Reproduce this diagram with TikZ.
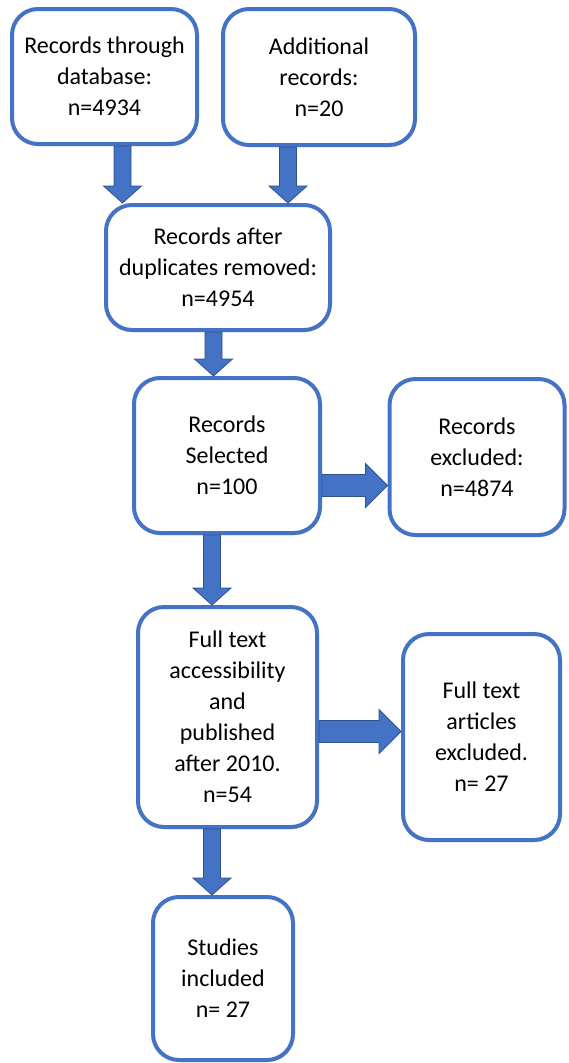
\documentclass[tikz,border=0pt]{standalone}
\usepackage{fontspec}
\setmainfont{Carlito}
\usepackage{tikz}
\usetikzlibrary{calc,shadows}
\definecolor{flowblue}{RGB}{68,114,196}
\definecolor{flowedge}{RGB}{47,82,143}

\tikzset{
  recbox/.style={draw=flowblue, line width=4pt, fill=white, rounded corners=26pt,
    align=center, inner sep=0pt, font=\fontsize{24}{31}\selectfont,
    drop shadow={shadow xshift=1pt, shadow yshift=-2pt, opacity=.2, fill=black}},
  blockarrow/.style={fill=flowblue, draw=flowedge, line width=0.8pt, line join=miter}
}

% downward block arrow: tail box, head box, shift of the shaft from the tail box centre
\newcommand{\downarrowblk}[3]{%
  \coordinate (tail) at ($(#1.south)+(#3,0)$);
  \coordinate (tip) at (tail |- #2.north);
  \filldraw[blockarrow] ($(tail)+(-8.5,0)$) -- ($(tip)+(-8.5,-17)$) -- ($(tip)+(-19,-17)$)
    -- (tip) -- ($(tip)+(19,-17)$) -- ($(tip)+(8.5,-17)$) -- ($(tail)+(8.5,0)$) -- cycle;
}
% rightward block arrow: tail box, head box, shift of the shaft from the tail box centre
\newcommand{\rightarrowblk}[3]{%
  \coordinate (tail) at ($(#1.east)+(0,#3)$);
  \coordinate (tip) at (tail -| #2.west);
  \filldraw[blockarrow] ($(tail)+(0,-11)$) -- ($(tip)+(-22,-11)$) -- ($(tip)+(-22,-22)$)
    -- (tip) -- ($(tip)+(-22,22)$) -- ($(tip)+(-22,11)$) -- ($(tail)+(0,11)$) -- cycle;
}

\begin{document}
\begin{tikzpicture}[x=1pt,y=-1pt]
    \fill[white] (0,0) rectangle (568,1063);
    \useasboundingbox (0,0) rectangle (568,1063);

    % Identification
    \node[recbox, minimum width=185pt, minimum height=135pt] (db) at (104.5,76.5)
        {Records through\\database:\\n=4934};
    \node[recbox, minimum width=192pt, minimum height=136pt] (add) at (319,77)
        {Additional\\records:\\n=20};

    % Screening
    \node[recbox, minimum width=224pt, minimum height=125pt] (dup) at (218,267.5)
        {Records after\\duplicates removed:\\n=4954};
    \node[recbox, minimum width=186pt, minimum height=155pt] (sel) at (227,455.5)
        {Records\\Selected\\n=100};
    \node[recbox, minimum width=175pt, minimum height=156pt] (excl) at (477,457)
        {Records\\excluded:\\n=4874};

    % Eligibility
    \node[recbox, minimum width=179pt, minimum height=220pt] (full) at (227.5,717)
        {Full text\\accessibility\\and\\published\\after 2010.\\n=54};
    \node[recbox, minimum width=157pt, minimum height=206pt] (art) at (481.5,737)
        {Full text\\articles\\excluded.\\n= 27};

    % Included
    \node[recbox, minimum width=140pt, minimum height=163pt] (inc) at (223,978.5)
        {Studies\\included\\n= 27};

    % Block arrows between the boxes
    \downarrowblk{db}{dup}{18}
    \downarrowblk{add}{dup}{-31}
    \downarrowblk{dup}{sel}{-4.5}
    \rightarrowblk{sel}{excl}{30}
    \downarrowblk{sel}{full}{-15}
    \rightarrowblk{full}{art}{14.5}
    \downarrowblk{full}{inc}{-15.5}
\end{tikzpicture}
\end{document}
